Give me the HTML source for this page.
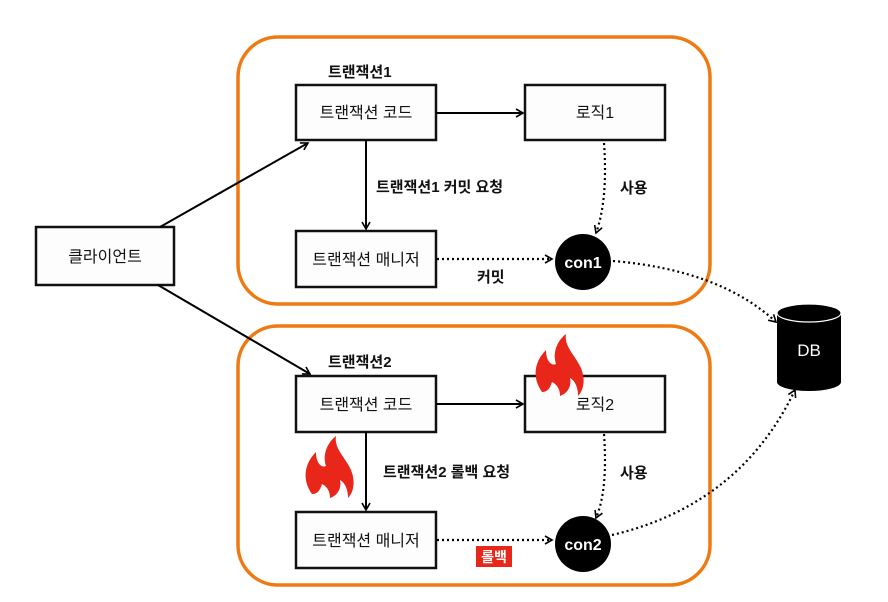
<!DOCTYPE html>
<html><head><meta charset="utf-8"><style>
body{margin:0;background:#fff;}
svg{display:block;font-family:"Liberation Sans","Noto Sans CJK KR",sans-serif;}
</style></head><body>
<svg width="888" height="602" viewBox="0 0 888 602">
<defs>
<marker id="a" markerWidth="10" markerHeight="10" refX="8" refY="5" orient="auto" markerUnits="userSpaceOnUse"><path d="M1,1 L8,5 L1,9" fill="none" stroke="#000" stroke-width="1.6"/></marker>
</defs>
<rect x="238" y="37" width="472" height="267" rx="40" fill="none" stroke="#ef7a12" stroke-width="3.5"/>
<rect x="238" y="326" width="472" height="259" rx="40" fill="none" stroke="#ef7a12" stroke-width="3.5"/>
<g fill="#fdfdfd" stroke="#111" stroke-width="2.5">
<rect x="36" y="227" width="138" height="58"/>
<rect x="296" y="85" width="140" height="55"/>
<rect x="525" y="85" width="140" height="55"/>
<rect x="296" y="231" width="140" height="56"/>
<rect x="296" y="376" width="140" height="56"/>
<rect x="525" y="376" width="140" height="56"/>
<rect x="296" y="512" width="140" height="56"/>
</g>
<g stroke="#000" stroke-width="2" fill="none">
<line x1="160" y1="227" x2="308" y2="143" marker-end="url(#a)"/>
<line x1="158" y1="285" x2="310" y2="374" marker-end="url(#a)"/>
<line x1="436" y1="113" x2="523" y2="113" marker-end="url(#a)"/>
<line x1="366" y1="140" x2="366" y2="229" marker-end="url(#a)"/>
<line x1="436" y1="404" x2="523" y2="404" marker-end="url(#a)"/>
<line x1="366" y1="432" x2="366" y2="510" marker-end="url(#a)"/>
</g>
<g stroke="#000" stroke-width="2.2" fill="none" stroke-dasharray="2 3">
<line x1="437" y1="259" x2="552" y2="259" marker-end="url(#a)"/>
<line x1="437" y1="540" x2="552" y2="540" marker-end="url(#a)"/>
<path d="M604,143 Q608,200 596,233" marker-end="url(#a)"/>
<path d="M604,434 Q608,490 596,518" marker-end="url(#a)"/>
<path d="M613,261 Q720,270 776,322" marker-end="url(#a)"/>
<path d="M612,535 Q740,505 795,390" marker-end="url(#a)"/>
</g>
<circle cx="583" cy="262" r="28" fill="#000"/>
<circle cx="583" cy="544" r="28" fill="#000"/>
<path d="M777,313 V382 A32,9 0 0 0 841,382 V313 Z" fill="#000"/>
<ellipse cx="809" cy="313" rx="32" ry="9" fill="#000" stroke="#fff" stroke-width="1.2"/>
<g font-size="16" text-anchor="middle" fill="#111">
<text x="105" y="262">클라이언트</text>
<text x="366" y="118">트랜잭션 코드</text>
<text x="595" y="118">로직1</text>
<text x="366" y="265">트랜잭션 매니저</text>
<text x="366" y="410">트랜잭션 코드</text>
<text x="595" y="410">로직2</text>
<text x="366" y="546">트랜잭션 매니저</text>
</g>
<g font-size="15" font-weight="bold" fill="#111">
<text x="328" y="77">트랜잭션1</text>
<text x="376" y="192">트랜잭션1 커밋 요청</text>
<text x="620" y="193">사용</text>
<text x="477" y="282">커밋</text>
<text x="328" y="367">트랜잭션2</text>
<text x="383" y="477">트랜잭션2 롤백 요청</text>
<text x="620" y="478">사용</text>
</g>
<g font-size="16" fill="#fff" text-anchor="middle" font-weight="bold">
<text x="583" y="268">con1</text>
<text x="583" y="550">con2</text>
<text x="809" y="356" font-weight="normal" font-size="17">DB</text>
</g>
<rect x="476" y="546" width="36" height="21" fill="#e8261a"/>
<text x="494" y="562" font-size="14" fill="#fff" text-anchor="middle" font-weight="bold">롤백</text>
<g fill="#e8261a">
<path d="M542,392 C532,378 534,362 546,350 C546,362 552,366 556,364 C552,352 558,340 566,334 C564,346 574,354 580,366 C586,378 584,390 578,396 C578,386 574,380 570,378 C572,388 566,394 560,396 C560,388 556,384 552,382 C550,388 548,392 542,392 Z"/>
<path d="M312,494 C302,480 304,464 316,452 C316,464 322,468 326,466 C322,454 328,442 336,436 C334,448 344,456 350,468 C356,480 354,492 348,498 C348,488 344,482 340,480 C342,490 336,496 330,498 C330,490 326,486 322,484 C320,490 318,494 312,494 Z"/>
</g>
</svg>
</body></html>
